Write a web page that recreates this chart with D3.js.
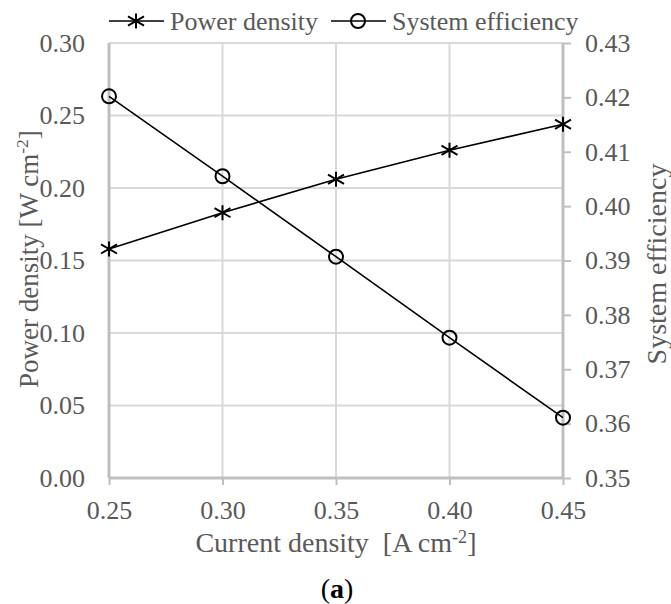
<!DOCTYPE html>
<html>
<head>
<meta charset="utf-8">
<script src="https://cdn.jsdelivr.net/npm/d3@7"></script>
<style>
  html, body { margin: 0; padding: 0; background: #fff; }
  svg text { font-family: "Liberation Serif", "Times New Roman", serif; fill: #595959; }
</style>
</head>
<body>
<svg id="chart" width="671" height="604"></svg>
<script>
const currentDensity = [0.25, 0.30, 0.35, 0.40, 0.45];
const powerDensity = [0.158, 0.183, 0.206, 0.226, 0.244];
const systemEfficiency = [0.4202, 0.4055, 0.3907, 0.3758, 0.3611];
const xTicks = [0.25, 0.30, 0.35, 0.40, 0.45];
const yLeftTicks = [0.00, 0.05, 0.10, 0.15, 0.20, 0.25, 0.30];
const yRightTicks = [0.35, 0.36, 0.37, 0.38, 0.39, 0.40, 0.41, 0.42, 0.43];

const svg = d3.select("#chart");
const W = 671, H = 604;
const m = { left: 109, right: 108, top: 43, bottom: 126 };
const x = d3.scaleLinear().domain([0.25, 0.45]).range([m.left, W - m.right]);
const yL = d3.scaleLinear().domain([0, 0.30]).range([H - m.bottom, m.top]);
const yR = d3.scaleLinear().domain([0.35, 0.43]).range([H - m.bottom, m.top]);
const FS = 26;
const gridC = "#d9d9d9", axisC = "#bfbfbf";

// gridlines
svg.append("g").selectAll("line").data(yLeftTicks.slice(1)).join("line")
  .attr("x1", m.left).attr("x2", W - m.right)
  .attr("y1", d => yL(d)).attr("y2", d => yL(d))
  .attr("stroke", gridC).attr("stroke-width", 2);
svg.append("g").selectAll("line").data(xTicks.slice(1, -1)).join("line")
  .attr("x1", d => x(d)).attr("x2", d => x(d))
  .attr("y1", m.top).attr("y2", H - m.bottom)
  .attr("stroke", gridC).attr("stroke-width", 2);

// axes
const xAxis = svg.append("g").attr("transform", `translate(0,${H - m.bottom})`)
  .call(d3.axisBottom(x).tickValues(xTicks).tickFormat(d3.format(".2f")).tickSize(7).tickPadding(16));
const yAxisL = svg.append("g").attr("transform", `translate(${m.left},0)`)
  .call(d3.axisLeft(yL).tickValues(yLeftTicks).tickFormat(d3.format(".2f")).tickSize(0).tickPadding(24));
const yAxisR = svg.append("g").attr("transform", `translate(${W - m.right},0)`)
  .call(d3.axisRight(yR).tickValues(yRightTicks).tickFormat(d3.format(".2f")).tickSize(8).tickPadding(14));

[xAxis, yAxisL, yAxisR].forEach(g => {
  g.select(".domain").attr("stroke", axisC).attr("stroke-width", 3);
  g.selectAll(".tick line").attr("stroke", axisC).attr("stroke-width", 2);
  g.selectAll(".tick text").attr("font-size", FS).attr("fill", "#595959")
    .style("font-family", '"Liberation Serif", "Times New Roman", serif');
});
yAxisR.select(".domain").attr("d", `M0,${m.top}V${H - m.bottom}`);
xAxis.select(".domain").attr("d", `M${m.left},0H${W - m.right}`);
yAxisL.select(".domain").attr("d", `M0,${m.top}V${H - m.bottom}`);

// lines
const lineP = d3.line().x((d, i) => x(currentDensity[i])).y(d => yL(d));
const lineE = d3.line().x((d, i) => x(currentDensity[i])).y(d => yR(d));
svg.append("path").attr("d", lineP(powerDensity)).attr("fill", "none").attr("stroke", "#000").attr("stroke-width", 1.6);
svg.append("path").attr("d", lineE(systemEfficiency)).attr("fill", "none").attr("stroke", "#000").attr("stroke-width", 1.6);

function star(g, cx, cy) {
  g.append("path")
    .attr("d", `M${cx},${cy - 7.5}V${cy + 7.5}M${cx - 8},${cy - 4.6}L${cx + 8},${cy + 4.6}M${cx - 8},${cy + 4.6}L${cx + 8},${cy - 4.6}`)
    .attr("stroke", "#000").attr("stroke-width", 2).attr("fill", "none");
}
function circ(g, cx, cy) {
  g.append("circle").attr("cx", cx).attr("cy", cy).attr("r", 7)
    .attr("stroke", "#000").attr("stroke-width", 2).attr("fill", "none");
}
const mk = svg.append("g");
powerDensity.forEach((d, i) => star(mk, x(currentDensity[i]), yL(d)));
systemEfficiency.forEach((d, i) => circ(mk, x(currentDensity[i]), yR(d)));

// legend
const lg = svg.append("g");
const ly = 21;
lg.append("line").attr("x1", 109).attr("x2", 164).attr("y1", ly).attr("y2", ly).attr("stroke", "#000").attr("stroke-width", 1.6);
star(lg, 136, ly);
lg.append("text").attr("x", 170).attr("y", ly).attr("dy", "0.33em").attr("font-size", FS).text("Power density");
lg.append("line").attr("x1", 331).attr("x2", 386).attr("y1", ly).attr("y2", ly).attr("stroke", "#000").attr("stroke-width", 1.6);
circ(lg, 358, ly);
lg.append("text").attr("x", 392).attr("y", ly).attr("dy", "0.33em").attr("font-size", FS).text("System efficiency");

// axis titles
const XFS = 28;
const xt = svg.append("text").attr("x", (m.left + W - m.right) / 2).attr("y", 552)
  .attr("text-anchor", "middle").attr("font-size", XFS).attr("xml:space", "preserve");
xt.append("tspan").text("Current density  [A cm");
xt.append("tspan").attr("font-size", XFS * 0.65).attr("dy", -9).text("-2");
xt.append("tspan").attr("dy", 9).text("]");

const ytl = svg.append("text").attr("transform", `translate(38,388) rotate(-90)`)
  .attr("text-anchor", "start").attr("font-size", 27);
ytl.append("tspan").text("Power density [W cm");
ytl.append("tspan").attr("font-size", 27 * 0.65).attr("dy", -10).text("-2");
ytl.append("tspan").attr("dy", 10).text("]");

svg.append("text").attr("transform", `translate(666,264) rotate(-90)`)
  .attr("text-anchor", "middle").attr("font-size", 28).text("System efficiency");

const lab = svg.append("text").attr("x", 337).attr("y", 598).attr("text-anchor", "middle")
  .attr("font-size", 28).style("fill", "#000");
lab.append("tspan").text("(");
lab.append("tspan").attr("font-weight", "bold").text("a");
lab.append("tspan").text(")");
</script>
</body>
</html>
